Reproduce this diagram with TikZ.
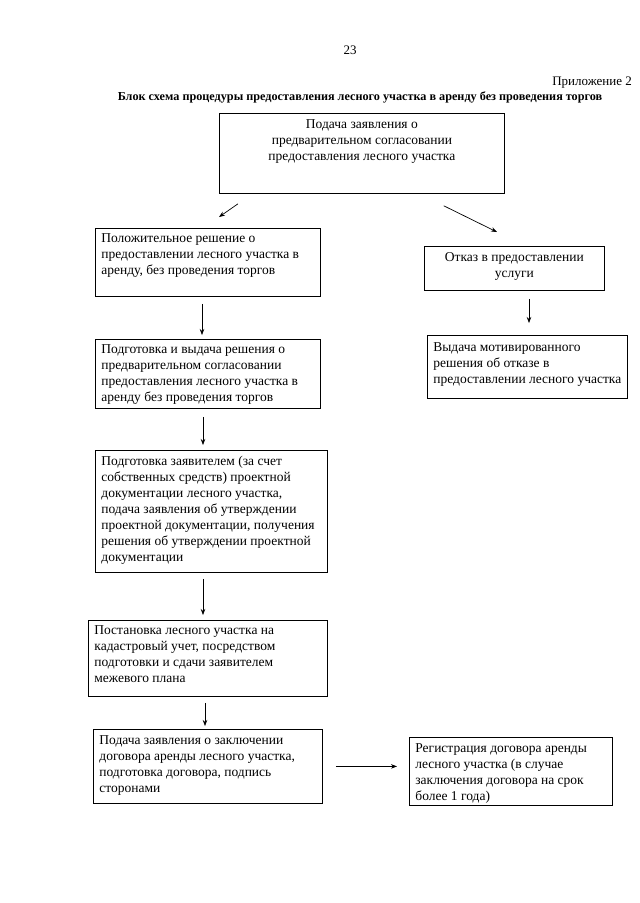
\documentclass[tikz,border=0pt]{standalone}
\usepackage{fontspec}
\setmainfont{Liberation Serif}
\usetikzlibrary{arrows.meta}
\newcommand\btl[4]{\parbox[c][#2pt][t]{#1pt}{\fontsize{13.5}{16}\selectfont\parindent=0pt\leftskip=6pt\rightskip=0pt plus 1fil\rule{0pt}{#3pt}#4}}
\newcommand\btc[4]{\parbox[c][#2pt][t]{#1pt}{\fontsize{13.5}{16}\selectfont\centering\parskip=0pt\rule{0pt}{#3pt}#4}}
\begin{document}
\begin{tikzpicture}[x=1pt,y=-1pt,
 box/.style={draw, line width=0.8pt, inner sep=0pt, anchor=north west},
 arr/.style={-{Stealth[length=6pt,width=4.5pt]}, line width=0.7pt},
 lbl/.style={inner sep=0pt}]
\useasboundingbox[fill=white] (0,0) rectangle (640,903);
\node[lbl] (pg) at (350,50) {\fontsize{13}{15}\selectfont 23};
\node[lbl, anchor=east] (app) at (632,83) {\fontsize{13}{15}\selectfont Приложение 2};
\node[lbl] (title) at (360,97) {\fontsize{12.2}{15}\selectfont\bfseries Блок схема процедуры предоставления лесного участка в аренду без проведения торгов};

\node[box] (n1) at (219,113) {\btc{285}{80}{15}{Подача заявления о\\ предварительном согласовании\\ предоставления лесного участка}};
\node[box] (n2) at (95,228) {\btl{225}{68}{14}{Положительное решение о\\ предоставлении лесного участка в\\ аренду, без проведения торгов}};
\node[box] (n3) at (95,339) {\btl{225}{69}{14}{Подготовка и выдача решения о\\ предварительном согласовании\\ предоставления лесного участка в\\ аренду без проведения торгов}};
\node[box] (n4) at (95,450) {\btl{232}{122}{15}{Подготовка заявителем (за счет\\ собственных средств) проектной\\ документации лесного участка,\\ подача заявления об утверждении\\ проектной документации, получения\\ решения об утверждении проектной\\ документации}};
\node[box] (n5) at (88,620) {\btl{239}{76}{14}{Постановка лесного участка на\\ кадастровый учет, посредством\\ подготовки и сдачи заявителем\\ межевого плана}};
\node[box] (n6) at (93,729) {\btl{229}{74}{15}{Подача заявления о заключении\\ договора аренды лесного участка,\\ подготовка договора, подпись\\ сторонами}};
\node[box] (n7) at (409,737) {\btl{203}{68}{15.5}{Регистрация договора аренды\\ лесного участка (в случае\\ заключения договора на срок\\ более 1 года)}};
\node[box] (r1) at (424,246) {\btc{180}{44}{15}{Отказ в предоставлении\\ услуги}};
\node[box] (r2) at (427,335) {\btl{200}{63}{16.5}{Выдача мотивированного\\ решения об отказе в\\ предоставлении лесного участка}};

\draw[arr] ([shift={(19,10)}]n1.south west) -- ([shift={(124,-11)}]n2.north west);
\draw[arr] ([shift={(-61,12)}]n1.south east) -- ([shift={(73,-14)}]r1.north west);
\draw[arr] ([shift={(107,7)}]n2.south west) -- ([shift={(107,-4)}]n3.north west);
\draw[arr] ([shift={(108,8)}]n3.south west) -- ([shift={(108,-5)}]n4.north west);
\draw[arr] ([shift={(108,6)}]n4.south west) -- ([shift={(115,-5)}]n5.north west);
\draw[arr] ([shift={(117,6)}]n5.south west) -- ([shift={(112,-3)}]n6.north west);
\draw[arr] ([xshift=13]n6.east) -- ([xshift=-12]n6.east -| n7.west);
\draw[arr] ([shift={(105,8)}]r1.south west) -- ([shift={(102,-12)}]r2.north west);
\end{tikzpicture}
\end{document}
